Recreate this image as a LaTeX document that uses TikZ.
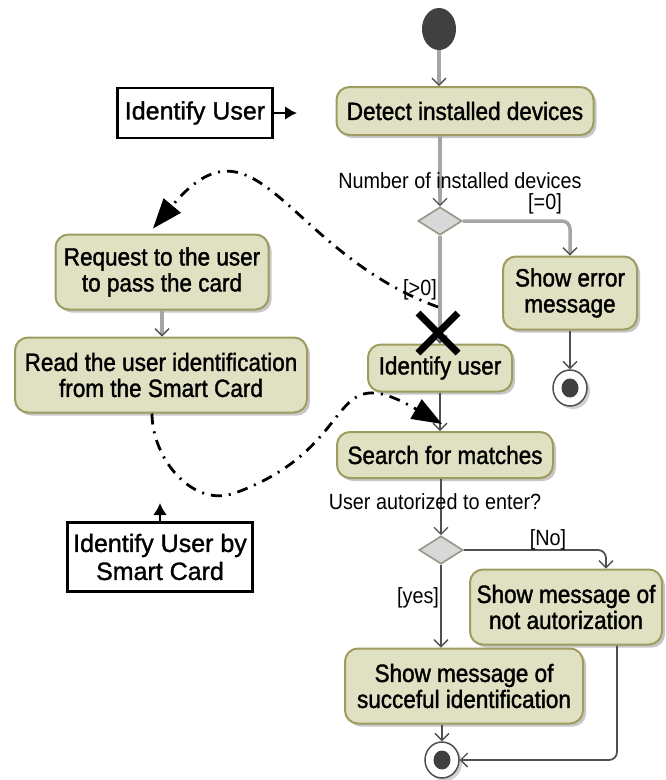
\documentclass[tikz,border=0pt]{standalone}
\usepackage{fontspec}
\setmainfont{Liberation Sans}
\newfontfamily\actfont{Liberation Sans}[FakeStretch=0.9,FakeBold=1.4]
\newfontfamily\guardfont{Liberation Sans}[FakeStretch=0.9]
\newfontfamily\callfont{Liberation Sans}[FakeBold=1.2]
\usepackage{tikz}
\usetikzlibrary{arrows.meta,shapes.geometric,shapes.misc,shadows}
\definecolor{actfill}{RGB}{224,224,195}
\definecolor{actdraw}{RGB}{158,156,96}
\definecolor{decfill}{RGB}{216,216,216}
\definecolor{decdraw}{RGB}{150,150,135}
\definecolor{flowgrey}{RGB}{165,165,165}
\definecolor{flowdarkgrey}{RGB}{80,80,80}
\definecolor{dotfill}{RGB}{64,64,64}

\begin{document}
\begin{tikzpicture}[x=1pt,y=1pt,
    action/.style={draw=actdraw,fill=actfill,line width=2pt,rounded corners=13pt,align=center,inner sep=0pt,
        font=\actfont\fontsize{25}{26}\selectfont,
        drop shadow={shadow xshift=3pt,shadow yshift=-3pt,fill=black!22,opacity=1}},
    decision/.style={diamond,aspect=1.57,draw=decdraw,fill=decfill,line width=1.6pt,minimum width=44pt,minimum height=28pt,inner sep=0pt},
    initial/.style={ellipse,fill=dotfill,minimum width=34pt,minimum height=42pt,inner sep=0pt},
    final/.style={ellipse,draw=flowdarkgrey,fill=white,line width=1.5pt,minimum width=34pt,minimum height=36pt,inner sep=0pt,
        path picture={\fill[dotfill] (path picture bounding box.center) ellipse (8.5pt and 9.5pt);},
        drop shadow={shadow xshift=3pt,shadow yshift=-3pt,fill=black!18,opacity=1}},
    caller/.style={draw,line width=2.5pt,fill=white,align=center,inner sep=0pt,font=\callfont\fontsize{25}{28}\selectfont},
    guard/.style={inner sep=0pt,font=\guardfont\fontsize{22}{24}\selectfont},
    flowlight/.style={draw=flowgrey,line width=3.5pt,rounded corners=8pt,
        -{Straight Barb[length=7pt,width=14pt,line width=1.3pt,color=flowdarkgrey]}},
    flowdark/.style={draw=flowdarkgrey,line width=1.8pt,rounded corners=8pt,
        -{Straight Barb[length=7pt,width=14pt,line width=1.3pt]}},
    callarrow/.style={draw,line width=2.5pt,-{Latex[length=12pt,width=14pt]}},
    interrupt/.style={draw,line width=2.8pt,dash pattern=on 11pt off 7pt on 2pt off 7pt,
        -{Triangle[length=30pt,width=22pt]}}]
\useasboundingbox (0,0) rectangle (665,-780);

\node[initial] (start) at (439,-29) {};
\node[action,minimum width=257pt,minimum height=48pt] (detect) at (465,-111) {Detect installed devices};
\node[caller,minimum width=155pt,minimum height=50pt] (iduser) at (195,-113) {Identify User};
\coordinate (iduserend) at (297,-113);
\node[decision] (devcount) at (440,-221) {};
\node[action,minimum width=134pt,minimum height=73pt] (error) at (570,-293) {Show error\\message};
\node[final] (errend) at (570,-388) {};
\node[action,minimum width=144pt,minimum height=47pt] (identify) at (440,-368) {Identify user};
\node[action,minimum width=213pt,minimum height=75pt] (request) at (162,-272) {Request to the user\\to pass the card};
\node[action,minimum width=292pt,minimum height=75pt] (read) at (161,-375) {Read the user identification\\from the Smart Card};
\node[caller,minimum width=185pt,minimum height=69pt] (idcard) at (160,-557) {Identify User by\\Smart Card};
\coordinate (idcardend) at (160,-503);
\node[action,minimum width=216pt,minimum height=46pt] (search) at (445,-455) {Search for matches};
\node[decision] (authq) at (441,-550) {};
\node[action,minimum width=192pt,minimum height=75pt] (denied) at (566,-607) {Show message of\\not autorization};
\node[action,minimum width=238pt,minimum height=75pt] (granted) at (464,-686) {Show message of\\succeful identification};
\node[final] (okend) at (442,-760) {};

\draw[flowlight] (start) -- (start |- detect.north);
\draw[flowlight] (devcount |- detect.south) -- (devcount);
\draw[flowlight] (devcount) -| (error);
\draw[flowlight] (devcount) -- (devcount |- identify.north);
\draw[flowlight] (request) -- (request |- read.north);
\draw[flowdark] (error) -- (errend);
\draw[flowdark] (identify.south) -- (identify.south |- search.north);
\draw[flowdark] (authq |- search.south) -- (authq);
\draw[flowdark] (authq) -| ([xshift=40pt]denied.north);
\draw[flowdark] (authq) -- (authq |- granted.north);
\draw[flowdark] (okend |- granted.south) -- (okend);
\draw[flowdark] ([xshift=51pt]denied.south) |- (okend);
\draw[callarrow] (iduser) -- (iduserend);
\draw[callarrow] (idcard) -- (idcardend);

\node[guard] (countlabel) at (460,-181) {Number of installed devices};
\node[guard] (eqzero) at (545,-204) {[=0]};
\node[guard] (gtzero) at (420,-290) {[>0]};
\node[guard] (asklabel) at (435,-502) {User autorized to enter?};
\node[guard] (nolabel) at (548,-540) {[No]};
\node[guard] (yeslabel) at (418,-598) {[yes]};

\node[cross out,draw,line width=7pt,minimum size=33pt,inner sep=0pt] (xmark) at (438,-333) {};
\coordinate (loopbottom) at (235,-493);
\draw[interrupt] ([yshift=6pt]xmark.north) to[out=160,in=50,looseness=1.4] ([xshift=-9pt,yshift=5pt]request.north);
\draw[interrupt] ([xshift=-9pt]read.south) to[out=-90,in=200] (loopbottom)
    to[out=20,in=150,looseness=1.6] ([xshift=-3pt,yshift=7pt]search.north);
\end{tikzpicture}
\end{document}
